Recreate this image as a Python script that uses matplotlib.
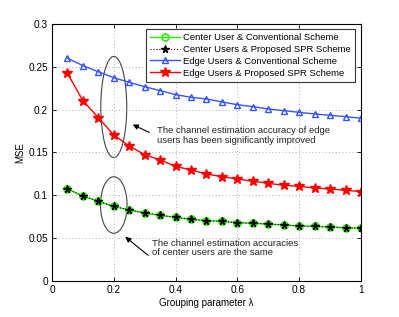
import matplotlib
matplotlib.use("Agg")
import matplotlib.pyplot as plt
from matplotlib.patches import Ellipse

plt.rcParams['font.family'] = ['Liberation Sans', 'DejaVu Sans']

lam = [0.05, 0.10, 0.15, 0.20, 0.25, 0.30, 0.35, 0.40, 0.45, 0.50,
       0.55, 0.60, 0.65, 0.70, 0.75, 0.80, 0.85, 0.90, 0.95, 1.00]
center_conv = [0.1074, 0.0992, 0.0930, 0.0871, 0.0829, 0.0794, 0.0767, 0.0743, 0.0720, 0.0704,
               0.0696, 0.0681, 0.0673, 0.0665, 0.0654, 0.0642, 0.0638, 0.0630, 0.0622, 0.0615]
center_spr = list(center_conv)
edge_conv = [0.2600, 0.2514, 0.2443, 0.2373, 0.2319, 0.2268, 0.2222, 0.2175, 0.2144, 0.2125,
             0.2090, 0.2058, 0.2035, 0.2008, 0.1988, 0.1969, 0.1950, 0.1934, 0.1918, 0.1900]
edge_spr = [0.2424, 0.2105, 0.1906, 0.1704, 0.1576, 0.1474, 0.1413, 0.1338, 0.1296, 0.1249,
            0.1218, 0.1191, 0.1164, 0.1140, 0.1117, 0.1105, 0.1086, 0.1074, 0.1059, 0.1043]

labels = ["Center User & Conventional Scheme",
          "Center Users & Proposed SPR Scheme",
          "Edge Users & Conventional Scheme",
          "Edge Users & Proposed SPR Scheme"]
xticks = [0, 0.2, 0.4, 0.6, 0.8, 1]
yticks = [0, 0.05, 0.1, 0.15, 0.2, 0.25, 0.3]
xticklabels = ["0", "0.2", "0.4", "0.6", "0.8", "1"]
yticklabels = ["0", "0.05", "0.1", "0.15", "0.2", "0.25", "0.3"]

fig = plt.figure(figsize=(3.99, 3.17), dpi=100)
ax = fig.add_axes([0.1303, 0.1136, 0.7744, 0.8107])

green = '#22ee00'
blue = '#3355ff'
red = '#ff0000'

ax.plot(lam, center_conv, '-', color=green, lw=1.0, marker='o', ms=5,
        mfc='none', mec=green, mew=1.2, label=labels[0])
ax.plot(lam, center_spr, ':', color='black', lw=0.8, marker='*', ms=5.5,
        mfc='black', mec='black', label=labels[1])
ax.plot(lam, edge_conv, '-', color=blue, lw=1.0, marker='^', ms=5,
        mfc='none', mec=blue, mew=1.0, label=labels[2])
ax.plot(lam, edge_spr, '-', color=red, lw=1.0, marker='*', ms=7,
        mfc=red, mec=red, label=labels[3])

ax.set_xlim(0, 1)
ax.set_ylim(0, 0.3)
ax.set_xticks(xticks)
ax.set_xticklabels(xticklabels)
ax.set_yticks(yticks)
ax.set_yticklabels(yticklabels)
ax.tick_params(direction='in', labelsize=7.3, length=3, width=0.6, top=True, right=True, pad=3)
ax.grid(True, linestyle=(0, (1, 3)), color='#999999', lw=0.6)
for s in ax.spines.values():
    s.set_linewidth(0.8)

ax.set_xlabel('Grouping parameter λ', fontsize=7, labelpad=2)
ax.set_ylabel('MSE', fontsize=7, labelpad=2)

leg = ax.legend(loc='upper right', bbox_to_anchor=(0.981, 0.981), fontsize=6.8,
                frameon=True, fancybox=False, edgecolor='black', handlelength=3.2,
                borderpad=0.45, labelspacing=0.3, handletextpad=0.3, borderaxespad=0)
leg.get_frame().set_linewidth(0.8)

e1 = Ellipse((0.2, 0.2031), 0.084, 0.118, fill=False, edgecolor='#444444', lw=0.8)
e2 = Ellipse((0.2, 0.0887), 0.086, 0.066, fill=False, edgecolor='#444444', lw=0.8)
ax.add_patch(e1)
ax.add_patch(e2)

ax.annotate('', xy=(0.253, 0.184), xytext=(0.323, 0.172),
            arrowprops=dict(arrowstyle='-|>', color='black', lw=0.8, mutation_scale=8))
ax.annotate('', xy=(0.230, 0.0536), xytext=(0.318, 0.028),
            arrowprops=dict(arrowstyle='-|>', color='black', lw=0.8, mutation_scale=8))

ax.text(0.34, 0.170, 'The channel estimation accuracy of edge\nusers has been significantly improved',
        fontsize=6.8, va='center', ha='left', color='#222222', linespacing=1.1)
ax.text(0.323, 0.0385, 'The channel estimation accuracies\nof center users are the same',
        fontsize=6.8, va='center', ha='left', color='#222222', linespacing=1.1)

fig.savefig('out.png', dpi=100)
